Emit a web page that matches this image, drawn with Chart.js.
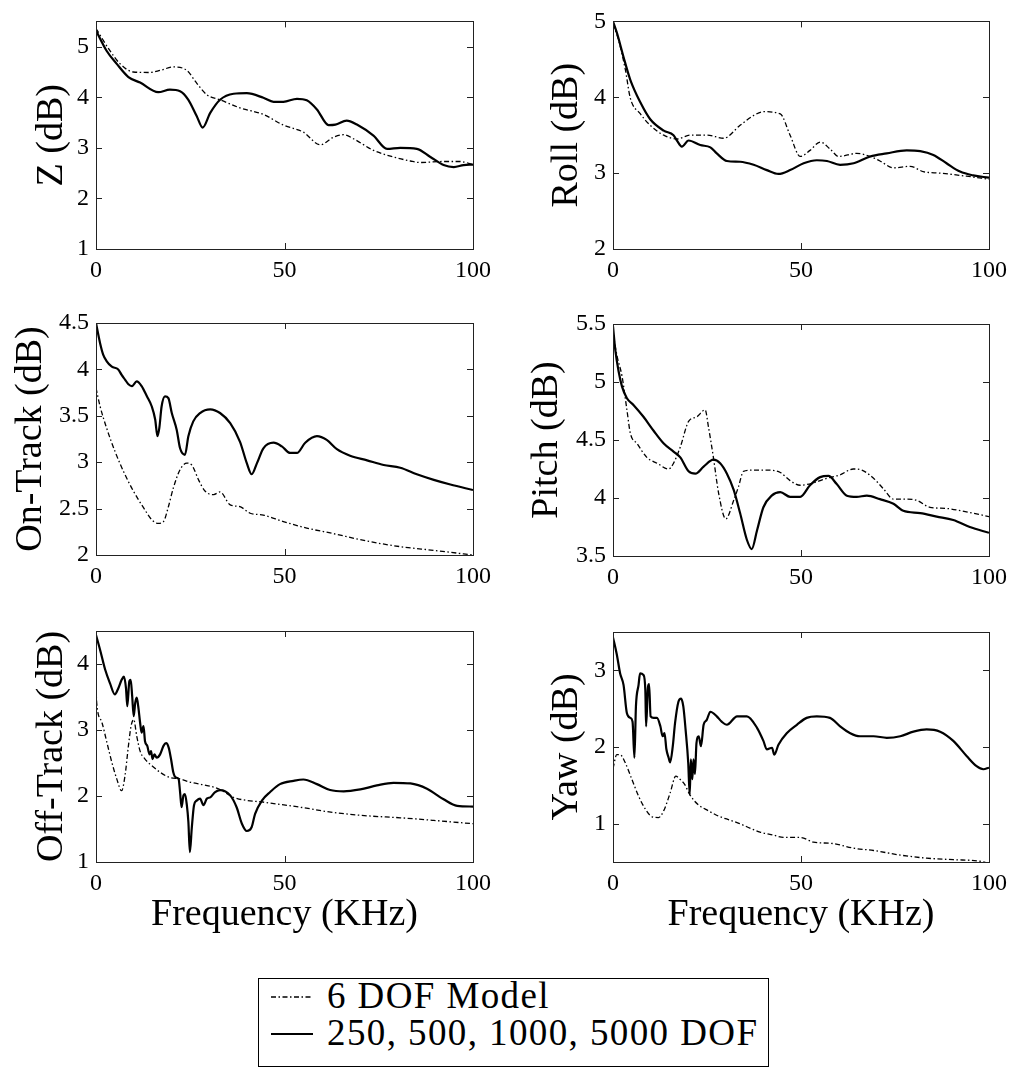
<!DOCTYPE html>
<html>
<head>
<meta charset="utf-8">
<script src="https://cdn.jsdelivr.net/npm/chart.js@4.4.0/dist/chart.umd.min.js"></script>
<style>
  body { margin: 0; background: #fff; width: 1014px; height: 1069px; overflow: hidden; position: relative; }
  canvas { position: absolute; }
  #legend { position: absolute; left: 258px; top: 978px; width: 511px; height: 89px; box-sizing: border-box;
            border: 1px solid #000; font-family: "Liberation Serif", serif; font-size: 37px; letter-spacing: 1.4px; color: #000; }
  .row { position: absolute; left: 12px; height: 40px; line-height: 40px; white-space: nowrap; }
  .row svg { position: absolute; left: 0; top: 19px; }
  .row span { position: absolute; left: 56px; top: 0; }
</style>
</head>
<body>
<div id="legend">
  <div class="row" style="top:-3px"><svg width="44" height="4"><line x1="0" y1="2" x2="42" y2="2" stroke="#000" stroke-width="1.3" stroke-dasharray="5 2.5 1.5 2.5"/></svg><span>6 DOF Model</span></div>
  <div class="row" style="top:34px"><svg width="44" height="4"><line x1="0" y1="2" x2="42" y2="2" stroke="#000" stroke-width="2"/></svg><span>250, 500, 1000, 5000 DOF</span></div>
</div>
<script>
const freqTicks = [0, 50, 100];

// Z
const zFreqSolid = [0, 2.8, 5.5, 8.6, 11.7, 16.5, 19.6, 22.3, 24.5, 26.7, 28.3, 30.3, 32.9, 36.5, 40, 44.4, 47.1, 49.7, 53.3, 55.9, 58.6, 61.7, 63.5, 66.5, 69.2, 73.6, 77.2, 80.7, 85.1, 88.7, 92.2, 94.9, 97.5, 100];
const zSolid = [5.32, 4.92, 4.66, 4.40, 4.29, 4.10, 4.15, 4.12, 3.95, 3.63, 3.40, 3.69, 3.95, 4.07, 4.08, 3.99, 3.91, 3.91, 3.97, 3.94, 3.76, 3.45, 3.46, 3.54, 3.46, 3.24, 2.98, 3.00, 2.98, 2.82, 2.66, 2.62, 2.66, 2.67];
const zFreqDash = [0, 3.7, 6.4, 9.9, 14.3, 17, 20.5, 24.1, 26.7, 29.4, 32.9, 38.2, 44.4, 49.7, 55, 59.5, 63, 65.7, 68.3, 73.6, 78.9, 83.4, 86, 92.2, 96.6, 100];
const zDash = [5.36, 4.92, 4.66, 4.50, 4.49, 4.53, 4.60, 4.53, 4.28, 4.05, 3.95, 3.79, 3.66, 3.45, 3.31, 3.06, 3.21, 3.26, 3.18, 2.95, 2.82, 2.74, 2.71, 2.73, 2.73, 2.67];
const zTicks = [1, 2, 3, 4, 5];

// Roll
const rollFreqSolid = [0, 1.1, 2.8, 4.6, 7.3, 9.9, 13.5, 16.1, 17, 18.3, 20.1, 23.2, 25.9, 27.6, 30.3, 33.8, 37.4, 40.9, 44, 47.1, 50.7, 54.2, 56.9, 60.4, 64, 68.4, 72.8, 78.1, 81.7, 85.2, 88.7, 92.3, 95.8, 100];
const rollSolid = [5.0, 4.84, 4.53, 4.23, 3.93, 3.71, 3.56, 3.50, 3.43, 3.35, 3.43, 3.37, 3.34, 3.26, 3.16, 3.15, 3.11, 3.04, 2.99, 3.04, 3.13, 3.17, 3.16, 3.11, 3.13, 3.22, 3.26, 3.30, 3.29, 3.24, 3.13, 3.02, 2.97, 2.94];
const rollFreqDash = [0, 1.5, 3.3, 4.6, 7.3, 9.9, 13.5, 17, 20.5, 25, 29.4, 33.8, 37.4, 40, 44.5, 47.1, 49.8, 52.4, 55.1, 57.7, 60, 64.8, 68.4, 71, 74.6, 79, 82.5, 87, 94, 100];
const rollDash = [4.97, 4.75, 4.36, 3.99, 3.78, 3.63, 3.50, 3.45, 3.50, 3.50, 3.46, 3.63, 3.76, 3.81, 3.78, 3.50, 3.22, 3.30, 3.41, 3.32, 3.22, 3.26, 3.22, 3.16, 3.07, 3.09, 3.02, 3.00, 2.96, 2.92];
const rollTicks = [2, 3, 4, 5];

// On-Track
const onFreqSolid = [0, 1.1, 1.9, 2.8, 4.2, 5.9, 6.8, 7.7, 8.6, 9.5, 10.8, 12.1, 13.5, 14.8, 15.7, 16.3, 16.8, 17.4, 18.3, 19.2, 20.1, 21.4, 22.3, 23.6, 24.5, 25.8, 27.6, 30.3, 32.9, 35.6, 38.2, 40, 41.3, 42.7, 44.4, 47.1, 49.3, 51.5, 53.3, 55.5, 58.6, 61.2, 63.9, 67.4, 71.9, 76.3, 80.7, 85.1, 89.6, 94, 100];
const onSolid = [4.5, 4.28, 4.16, 4.09, 4.03, 4.00, 3.94, 3.89, 3.84, 3.82, 3.87, 3.82, 3.71, 3.60, 3.46, 3.28, 3.37, 3.60, 3.71, 3.69, 3.53, 3.35, 3.15, 3.08, 3.28, 3.44, 3.53, 3.57, 3.53, 3.42, 3.22, 2.99, 2.87, 2.99, 3.15, 3.21, 3.17, 3.10, 3.10, 3.21, 3.28, 3.24, 3.14, 3.07, 3.02, 2.97, 2.94, 2.87, 2.81, 2.76, 2.70];
const onFreqDash = [0, 1.1, 2.8, 5, 7.3, 9.9, 12.6, 14.8, 16.5, 17.9, 19.2, 20.5, 22.3, 24.1, 25.4, 27.2, 28.9, 31.2, 32.9, 35.6, 38.2, 40.9, 44.4, 49.7, 55.9, 63, 71.9, 80.7, 89.6, 100];
const onDash = [3.80, 3.60, 3.37, 3.12, 2.90, 2.69, 2.51, 2.38, 2.34, 2.36, 2.52, 2.72, 2.92, 2.99, 2.97, 2.81, 2.69, 2.65, 2.68, 2.54, 2.52, 2.45, 2.43, 2.36, 2.29, 2.23, 2.15, 2.09, 2.05, 2.00];
const onTicks = [2, 2.5, 3, 3.5, 4, 4.5];

// Pitch
const pitchFreqSolid = [0, 0.6, 1.5, 2.4, 3.7, 5.5, 8.1, 10.8, 13.5, 16.1, 17.9, 20.1, 21.9, 24.1, 26.7, 28.5, 30.3, 32.1, 33.8, 35.6, 36.9, 38.3, 40, 42.2, 44.5, 47.1, 49.8, 52.4, 55.1, 57.3, 59.5, 62.2, 64.8, 67.5, 71, 74.6, 77.2, 81.7, 86.1, 90.5, 94.9, 100];
const pitchSolid = [5.48, 5.28, 5.09, 4.96, 4.86, 4.80, 4.70, 4.58, 4.47, 4.40, 4.35, 4.23, 4.21, 4.27, 4.33, 4.30, 4.21, 4.07, 3.87, 3.64, 3.56, 3.72, 3.92, 4.02, 4.05, 4.01, 4.01, 4.11, 4.18, 4.19, 4.12, 4.02, 4.01, 4.02, 3.99, 3.95, 3.89, 3.87, 3.84, 3.81, 3.75, 3.70];
const pitchFreqDash = [0, 1.1, 2.4, 3.7, 4.6, 6.4, 9, 11.7, 14.8, 16.1, 17.9, 20.1, 22.3, 24.5, 25.4, 26.7, 28.1, 30, 32.1, 33.4, 34.7, 37.4, 40.9, 44.5, 47.1, 49.8, 53.3, 56.9, 60.4, 63.9, 66.2, 69.3, 71.9, 74.6, 78.1, 80.8, 84.3, 88.7, 94, 100];
const pitchDash = [5.42, 5.22, 5.05, 4.76, 4.56, 4.47, 4.35, 4.30, 4.25, 4.30, 4.44, 4.66, 4.70, 4.76, 4.61, 4.35, 4.04, 3.82, 3.98, 4.10, 4.23, 4.24, 4.24, 4.22, 4.15, 4.11, 4.13, 4.17, 4.20, 4.25, 4.24, 4.17, 4.08, 3.99, 3.99, 3.98, 3.92, 3.91, 3.88, 3.84];
const pitchTicks = [3.5, 4, 4.5, 5, 5.5];

// Off-Track
const offFreqSolid = [0, 1.06, 2.4, 3.7, 5.0, 5.9, 6.8, 7.4, 7.96, 8.3, 8.85, 9.2, 9.6, 10, 10.4, 10.8, 11.2, 11.7, 12.1, 12.6, 13, 13.6, 14.2, 14.6, 15, 15.5, 16.1, 17, 17.9, 18.6, 19.3, 19.9, 20.5, 21.2, 21.9, 22.3, 22.7, 23.2, 23.6, 24.1, 24.5, 24.9, 25.4, 26, 26.7, 27.6, 28.5, 29.4, 30.3, 31.6, 32.9, 35.6, 37.3, 38.7, 40, 41.3, 42.2, 44, 46.2, 48.8, 52.4, 55, 58.6, 62.1, 65.7, 70.1, 74.5, 78.9, 83.4, 87.8, 92.2, 95.8, 100];
const offSolid = [4.44, 4.22, 3.92, 3.71, 3.54, 3.63, 3.76, 3.81, 3.63, 3.36, 3.74, 3.76, 3.51, 3.21, 3.41, 3.49, 3.36, 3.11, 2.96, 3.06, 2.83, 2.76, 2.63, 2.68, 2.56, 2.63, 2.58, 2.63, 2.76, 2.80, 2.73, 2.56, 2.36, 2.28, 2.26, 2.06, 1.83, 2.01, 2.03, 1.86, 1.61, 1.15, 1.51, 1.86, 1.93, 1.96, 1.86, 1.96, 1.98, 2.06, 2.09, 2.01, 1.83, 1.58, 1.47, 1.53, 1.73, 1.93, 2.06, 2.18, 2.23, 2.25, 2.18, 2.09, 2.07, 2.10, 2.16, 2.20, 2.19, 2.11, 1.95, 1.85, 1.84];
const offFreqDash = [0, 0.2, 1.6, 2.9, 4.2, 5.5, 6.8, 7.7, 8.6, 9.3, 10, 10.8, 11.7, 13, 14.8, 17, 19.6, 22.3, 24.9, 28.5, 32.5, 36.5, 45.3, 54.2, 63, 71.9, 80.7, 89.6, 100];
const offDash = [3.62, 3.40, 3.11, 2.81, 2.51, 2.26, 2.08, 2.31, 2.76, 3.06, 3.16, 2.91, 2.68, 2.56, 2.46, 2.36, 2.28, 2.26, 2.21, 2.17, 2.11, 1.98, 1.90, 1.83, 1.75, 1.70, 1.67, 1.63, 1.58];
const offTicks = [1, 2, 3, 4];

// Yaw
const yawFreqSolid = [0, 1.0, 1.9, 2.8, 3.7, 4.6, 5.2, 5.7, 6.1, 6.8, 7.2, 8.1, 8.6, 8.8, 9.3, 9.6, 10, 10.8, 11.7, 12.6, 13.2, 13.7, 14.2, 14.8, 15.2, 15.9, 16.5, 17.4, 18.1, 18.7, 19.3, 20, 20.4, 20.7, 21.1, 21.4, 21.8, 22.2, 22.8, 23.4, 24.1, 24.9, 25.9, 27.6, 28.9, 30.3, 33, 35.6, 38.3, 40, 40.9, 42.3, 42.9, 44, 46.2, 48.9, 51.5, 54.2, 57.7, 60.4, 63.1, 65.7, 69.3, 72.8, 76.4, 79.9, 83.4, 87, 90.5, 94.1, 96.7, 98.5, 100];
const yawSolid = [3.43, 3.21, 2.96, 2.81, 2.44, 2.38, 2.33, 1.86, 2.53, 2.81, 2.96, 2.94, 2.74, 2.27, 2.78, 2.82, 2.40, 2.38, 2.38, 2.27, 2.14, 2.18, 1.97, 1.86, 1.80, 2.01, 2.31, 2.59, 2.63, 2.53, 2.23, 1.80, 1.38, 1.84, 1.58, 1.84, 1.65, 2.05, 2.14, 2.01, 2.29, 2.35, 2.46, 2.40, 2.33, 2.29, 2.40, 2.40, 2.25, 2.08, 1.97, 1.99, 1.90, 2.03, 2.18, 2.29, 2.38, 2.40, 2.38, 2.27, 2.18, 2.14, 2.14, 2.12, 2.14, 2.20, 2.23, 2.20, 2.08, 1.88, 1.75, 1.71, 1.73];
const yawFreqDash = [0, 1.0, 1.9, 3.2, 5.0, 6.8, 8.6, 10.4, 12.1, 13.5, 15.2, 16.7, 17.8, 19.1, 20.4, 22.6, 25.3, 28, 31.5, 33.7, 35.6, 39.1, 42.7, 45.3, 49.8, 53.3, 58.6, 64, 69.3, 76.4, 83.4, 90.5, 97.6, 100];
const yawDash = [1.72, 1.90, 1.90, 1.80, 1.58, 1.36, 1.19, 1.09, 1.08, 1.17, 1.40, 1.62, 1.58, 1.51, 1.38, 1.25, 1.17, 1.10, 1.04, 1.00, 0.96, 0.89, 0.85, 0.82, 0.82, 0.76, 0.74, 0.68, 0.65, 0.59, 0.55, 0.53, 0.51, 0.48];
const yawTicks = [1, 2, 3];

const FONT = '"Liberation Serif", serif';
const TITLE_SIZE = 38;

// canvas box, plot box (page px) and where the y title is centred
const panels = [
  { title: 'Z (dB)', min: 1, max: 5.5, ticks: zTicks, sx: zFreqSolid, sy: zSolid, dx: zFreqDash, dy: zDash,
    canvas: [0, 0, 500, 300], plot: [96, 17, 473, 249], titleX: 52, xTitle: false },
  { title: 'Roll (dB)', min: 2, max: 5, ticks: rollTicks, sx: rollFreqSolid, sy: rollSolid, dx: rollFreqDash, dy: rollDash,
    canvas: [507, 0, 507, 300], plot: [613, 17, 989, 249], titleX: 567, xTitle: false },
  { title: 'On-Track (dB)', min: 2, max: 4.5, ticks: onTicks, sx: onFreqSolid, sy: onSolid, dx: onFreqDash, dy: onDash,
    canvas: [0, 300, 500, 300], plot: [96, 323, 473, 555], titleX: 31, xTitle: false },
  { title: 'Pitch (dB)', min: 3.5, max: 5.5, ticks: pitchTicks, sx: pitchFreqSolid, sy: pitchSolid, dx: pitchFreqDash, dy: pitchDash,
    canvas: [507, 300, 507, 300], plot: [613, 324, 989, 556], titleX: 547, xTitle: false },
  { title: 'Off-Track (dB)', min: 1, max: 4.5, ticks: offTicks, sx: offFreqSolid, sy: offSolid, dx: offFreqDash, dy: offDash,
    canvas: [0, 600, 500, 334], plot: [96, 631, 473, 862], titleX: 52, xTitle: true },
  { title: 'Yaw (dB)', min: 0.5, max: 3.5, ticks: yawTicks, sx: yawFreqSolid, sy: yawSolid, dx: yawFreqDash, dy: yawDash,
    canvas: [507, 600, 507, 334], plot: [613, 632, 989, 862], titleX: 567, xTitle: true }
];

// box around the axes with inward ticks on all four sides
const boxPlugin = {
  id: 'box',
  afterDraw(chart) {
    const { ctx, chartArea: a, scales: { x, y } } = chart;
    const len = 6;
    ctx.save();
    ctx.strokeStyle = '#222';
    ctx.lineWidth = 1;
    ctx.strokeRect(Math.round(a.left) + 0.5, Math.round(a.top) + 0.5, Math.round(a.right - a.left), Math.round(a.bottom - a.top));
    ctx.beginPath();
    x.ticks.forEach(t => {
      const px = Math.round(x.getPixelForValue(t.value)) + 0.5;
      ctx.moveTo(px, a.bottom); ctx.lineTo(px, a.bottom - len);
      ctx.moveTo(px, a.top); ctx.lineTo(px, a.top + len);
    });
    y.ticks.forEach(t => {
      const py = Math.round(y.getPixelForValue(t.value)) + 0.5;
      ctx.moveTo(a.left, py); ctx.lineTo(a.left + len, py);
      ctx.moveTo(a.right, py); ctx.lineTo(a.right - len, py);
    });
    ctx.stroke();
    ctx.restore();
  }
};

const toPoints = (xs, ys) => xs.map((v, i) => ({ x: v, y: ys[i] }));

panels.forEach(p => {
  const [cx, cy, cw, ch] = p.canvas;
  const [L, T, R, B] = p.plot;
  const cv = document.createElement('canvas');
  cv.width = cw; cv.height = ch;
  cv.style.left = cx + 'px'; cv.style.top = cy + 'px';
  cv.style.width = cw + 'px'; cv.style.height = ch + 'px';
  document.body.appendChild(cv);

  const padLeft = p.titleX - cx - TITLE_SIZE / 2;
  const yWidth = (L - cx) - padLeft;
  const xHeight = ch - (B - cy);

  new Chart(cv, {
    type: 'line',
    data: {
      datasets: [
        { label: '6 DOF Model', data: toPoints(p.dx, p.dy), borderColor: '#000', borderWidth: 1.3,
          borderDash: [5, 2.5, 1.5, 2.5], pointRadius: 0, cubicInterpolationMode: 'monotone' },
        { label: '250, 500, 1000, 5000 DOF', data: toPoints(p.sx, p.sy), borderColor: '#000', borderWidth: 2.2,
          pointRadius: 0, cubicInterpolationMode: 'monotone' }
      ]
    },
    options: {
      responsive: false,
      animation: false,
      devicePixelRatio: 1,
      layout: { padding: { left: padLeft, top: T - cy, right: cx + cw - R, bottom: 0 } },
      plugins: { legend: { display: false }, tooltip: { enabled: false } },
      scales: {
        x: {
          type: 'linear', min: 0, max: 100,
          afterBuildTicks: s => { s.ticks = freqTicks.map(v => ({ value: v })); },
          afterFit: s => { s.height = xHeight; },
          grid: { display: false, drawTicks: false },
          border: { display: false },
          ticks: { padding: 7, autoSkip: false, maxRotation: 0, color: '#000', font: { family: FONT, size: 24 },
                   callback: v => String(v) },
          title: { display: p.xTitle, text: 'Frequency (KHz)', color: '#000',
                   font: { family: FONT, size: TITLE_SIZE, lineHeight: 1 }, padding: { top: 0, bottom: 0 } }
        },
        y: {
          type: 'linear', min: p.min, max: p.max,
          afterBuildTicks: s => { s.ticks = p.ticks.map(v => ({ value: v })); },
          afterFit: s => { s.width = yWidth; },
          grid: { display: false, drawTicks: false },
          border: { display: false },
          ticks: { padding: 7, autoSkip: false, color: '#000', font: { family: FONT, size: 24 },
                   callback: v => String(v) },
          title: { display: true, text: p.title, color: '#000',
                   font: { family: FONT, size: TITLE_SIZE, lineHeight: 1 }, padding: { top: 0, bottom: 0 } }
        }
      }
    },
    plugins: [boxPlugin]
  });
});
</script>
</body>
</html>
